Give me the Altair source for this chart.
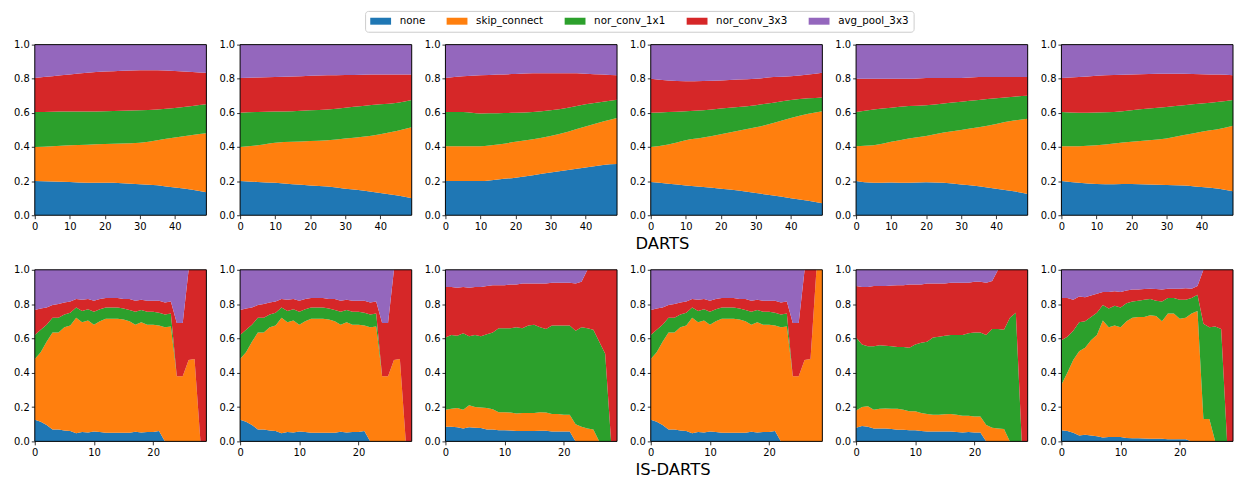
import altair as alt
import pandas as pd

OPS = ["none", "skip_connect", "nor_conv_1x1", "nor_conv_3x3", "avg_pool_3x3"]
COLORS = ["#1f77b4", "#ff7f0e", "#2ca02c", "#d62728", "#9467bd"]

# ---- DARTS (top row), 50 epochs, values read at these epochs ----
# each list = cumulative top edge of that operation's band
EPOCHS_DARTS = [0, 5, 10, 15, 20, 25, 30, 35, 40, 45, 49]

D1_NONE = [0.200, 0.198, 0.195, 0.190, 0.190, 0.188, 0.182, 0.176, 0.162, 0.150, 0.135]
D1_SKIP = [0.400, 0.405, 0.410, 0.413, 0.417, 0.420, 0.425, 0.440, 0.455, 0.470, 0.480]
D1_C1 = [0.605, 0.607, 0.608, 0.608, 0.610, 0.612, 0.615, 0.620, 0.628, 0.640, 0.650]
D1_C3 = [0.805, 0.815, 0.825, 0.835, 0.842, 0.847, 0.850, 0.850, 0.845, 0.840, 0.835]

D2_NONE = [0.200, 0.195, 0.190, 0.182, 0.175, 0.168, 0.155, 0.145, 0.130, 0.115, 0.100]
D2_SKIP = [0.400, 0.410, 0.425, 0.430, 0.435, 0.440, 0.450, 0.460, 0.475, 0.495, 0.515]
D2_C1 = [0.600, 0.605, 0.608, 0.610, 0.615, 0.620, 0.630, 0.640, 0.650, 0.660, 0.675]
D2_C3 = [0.805, 0.807, 0.810, 0.813, 0.818, 0.820, 0.822, 0.824, 0.825, 0.825, 0.825]

D3_NONE = [0.200, 0.200, 0.200, 0.210, 0.220, 0.235, 0.250, 0.265, 0.280, 0.295, 0.300]
D3_SKIP = [0.405, 0.405, 0.405, 0.415, 0.430, 0.445, 0.465, 0.490, 0.520, 0.550, 0.570]
D3_C1 = [0.605, 0.605, 0.597, 0.598, 0.600, 0.605, 0.615, 0.630, 0.650, 0.665, 0.677]
D3_C3 = [0.805, 0.815, 0.820, 0.825, 0.828, 0.832, 0.832, 0.832, 0.830, 0.825, 0.820]

D4_NONE = [0.195, 0.185, 0.175, 0.165, 0.155, 0.145, 0.130, 0.115, 0.100, 0.085, 0.070]
D4_SKIP = [0.400, 0.415, 0.440, 0.455, 0.475, 0.495, 0.515, 0.540, 0.570, 0.595, 0.610]
D4_C1 = [0.600, 0.605, 0.610, 0.615, 0.625, 0.635, 0.645, 0.660, 0.675, 0.685, 0.690]
D4_C3 = [0.800, 0.790, 0.785, 0.787, 0.790, 0.795, 0.800, 0.810, 0.815, 0.825, 0.835]

D5_NONE = [0.200, 0.190, 0.192, 0.190, 0.193, 0.190, 0.180, 0.170, 0.155, 0.140, 0.125]
D5_SKIP = [0.405, 0.410, 0.430, 0.450, 0.465, 0.485, 0.500, 0.515, 0.535, 0.555, 0.565]
D5_C1 = [0.605, 0.620, 0.630, 0.640, 0.645, 0.655, 0.665, 0.675, 0.685, 0.695, 0.700]
D5_C3 = [0.800, 0.800, 0.800, 0.800, 0.805, 0.805, 0.805, 0.810, 0.810, 0.810, 0.810]

D6_NONE = [0.200, 0.190, 0.183, 0.182, 0.183, 0.180, 0.177, 0.175, 0.165, 0.155, 0.140]
D6_SKIP = [0.405, 0.405, 0.410, 0.420, 0.430, 0.440, 0.450, 0.470, 0.490, 0.505, 0.525]
D6_C1 = [0.605, 0.600, 0.602, 0.605, 0.615, 0.625, 0.635, 0.645, 0.655, 0.665, 0.675]
D6_C3 = [0.805, 0.810, 0.818, 0.822, 0.825, 0.828, 0.830, 0.830, 0.827, 0.825, 0.820]

# ---- IS-DARTS (bottom row), 30 epochs ----
EPOCHS_IS = list(range(30))

I1_NONE = [0.126, 0.114, 0.095, 0.070, 0.070, 0.064, 0.060, 0.048, 0.054, 0.052, 0.058, 0.054, 0.050, 0.050, 0.050,
           0.050, 0.050, 0.056, 0.052, 0.054, 0.054, 0.060, 0, 0, 0, 0, 0, 0, 0, 0]
I1_SKIP = [0.48, 0.52, 0.58, 0.635, 0.635, 0.665, 0.675, 0.72, 0.695, 0.705, 0.68, 0.70, 0.715, 0.715, 0.715,
           0.71, 0.70, 0.68, 0.695, 0.68, 0.68, 0.675, 0.665, 0.67, 0.38, 0.38, 0.475, 0.48, 0, 0]
I1_C1 = [0.62, 0.65, 0.68, 0.72, 0.72, 0.74, 0.75, 0.78, 0.76, 0.77, 0.755, 0.77, 0.78, 0.78, 0.78,
         0.775, 0.765, 0.755, 0.765, 0.755, 0.755, 0.75, 0.74, 0.745, 0.38, 0.38, 0.475, 0.48, 0, 0]
I1_C3 = [0.765, 0.775, 0.78, 0.795, 0.80, 0.81, 0.815, 0.83, 0.825, 0.83, 0.82, 0.83, 0.835, 0.835, 0.835,
         0.83, 0.83, 0.82, 0.825, 0.82, 0.82, 0.82, 0.81, 0.815, 0.69, 0.69, 1, 1, 1, 1]

I2_NONE = [0.126, 0.114, 0.095, 0.070, 0.070, 0.064, 0.060, 0.048, 0.054, 0.052, 0.058, 0.054, 0.050, 0.050, 0.050,
           0.050, 0.050, 0.056, 0.052, 0.054, 0.054, 0.060, 0, 0, 0, 0, 0, 0, 0, 0]
I2_SKIP = [0.48, 0.52, 0.58, 0.635, 0.635, 0.665, 0.675, 0.72, 0.695, 0.705, 0.68, 0.70, 0.715, 0.715, 0.715,
           0.71, 0.70, 0.68, 0.695, 0.68, 0.68, 0.675, 0.665, 0.67, 0.38, 0.38, 0.475, 0.48, 0, 0]
I2_C1 = [0.62, 0.65, 0.68, 0.72, 0.72, 0.74, 0.75, 0.78, 0.76, 0.77, 0.755, 0.77, 0.78, 0.78, 0.78,
         0.775, 0.765, 0.755, 0.765, 0.755, 0.755, 0.75, 0.74, 0.745, 0.38, 0.38, 0.475, 0.48, 0, 0]
I2_C3 = [0.765, 0.775, 0.78, 0.795, 0.80, 0.81, 0.815, 0.83, 0.825, 0.83, 0.82, 0.83, 0.835, 0.835, 0.835,
         0.83, 0.83, 0.82, 0.825, 0.82, 0.82, 0.82, 0.81, 0.815, 0.69, 0.69, 1, 1, 1, 1]

I3_NONE = [0.085, 0.085, 0.082, 0.075, 0.082, 0.080, 0.078, 0.070, 0.070, 0.065, 0.065, 0.063, 0.060, 0.060, 0.060,
           0.060, 0.062, 0.062, 0.058, 0.058, 0.058, 0.058, 0, 0, 0, 0, 0, 0, 0, 0]
I3_SKIP = [0.185, 0.19, 0.195, 0.185, 0.21, 0.20, 0.198, 0.195, 0.188, 0.17, 0.17, 0.168, 0.162, 0.165, 0.165,
           0.165, 0.17, 0.168, 0.16, 0.16, 0.155, 0.155, 0.10, 0.085, 0.075, 0.07, 0, 0, 0, 0]
I3_C1 = [0.605, 0.62, 0.615, 0.63, 0.612, 0.62, 0.612, 0.625, 0.635, 0.66, 0.66, 0.66, 0.665, 0.66, 0.675,
         0.68, 0.665, 0.655, 0.675, 0.675, 0.675, 0.675, 0.645, 0.665, 0.66, 0.65, 0.58, 0.51, 0, 0]
I3_C3 = [0.90, 0.90, 0.895, 0.90, 0.895, 0.90, 0.90, 0.905, 0.91, 0.91, 0.91, 0.915, 0.915, 0.92, 0.92,
         0.92, 0.92, 0.92, 0.925, 0.925, 0.925, 0.925, 0.92, 0.93, 1, 1, 1, 1, 1, 1]

I4_NONE = [0.126, 0.114, 0.095, 0.070, 0.070, 0.064, 0.060, 0.048, 0.054, 0.052, 0.058, 0.054, 0.050, 0.050, 0.050,
           0.050, 0.050, 0.056, 0.052, 0.054, 0.054, 0.060, 0, 0, 0, 0, 0, 0, 0, 0]
I4_SKIP = [0.48, 0.52, 0.58, 0.635, 0.635, 0.665, 0.675, 0.72, 0.695, 0.705, 0.68, 0.70, 0.715, 0.715, 0.715,
           0.71, 0.70, 0.68, 0.695, 0.68, 0.68, 0.675, 0.665, 0.67, 0.38, 0.38, 0.475, 0.48, 1, 1]
I4_C1 = [0.62, 0.65, 0.68, 0.72, 0.72, 0.74, 0.75, 0.78, 0.76, 0.77, 0.755, 0.77, 0.78, 0.78, 0.78,
         0.775, 0.765, 0.755, 0.765, 0.755, 0.755, 0.75, 0.74, 0.745, 0.38, 0.38, 0.475, 0.48, 1, 1]
I4_C3 = [0.765, 0.775, 0.78, 0.795, 0.80, 0.81, 0.815, 0.83, 0.825, 0.83, 0.82, 0.83, 0.835, 0.835, 0.835,
         0.83, 0.83, 0.82, 0.825, 0.82, 0.82, 0.82, 0.81, 0.815, 0.69, 0.69, 1, 1, 1, 1]

I5_NONE = [0.08, 0.09, 0.085, 0.075, 0.075, 0.075, 0.072, 0.068, 0.068, 0.065, 0.065, 0.06, 0.058, 0.058, 0.058,
           0.058, 0.058, 0.055, 0.052, 0.055, 0.052, 0.052, 0, 0, 0, 0, 0, 0, 0, 0]
I5_SKIP = [0.18, 0.20, 0.205, 0.185, 0.19, 0.192, 0.19, 0.19, 0.185, 0.175, 0.175, 0.165, 0.16, 0.155, 0.155,
           0.158, 0.16, 0.155, 0.15, 0.15, 0.145, 0.145, 0.095, 0.08, 0.075, 0.072, 0, 0, 0, 0]
I5_C1 = [0.605, 0.565, 0.555, 0.555, 0.56, 0.557, 0.555, 0.55, 0.55, 0.545, 0.565, 0.575, 0.58, 0.605, 0.61,
         0.615, 0.62, 0.62, 0.62, 0.63, 0.635, 0.635, 0.62, 0.655, 0.655, 0.65, 0.72, 0.75, 0, 0]
I5_C3 = [0.905, 0.90, 0.90, 0.905, 0.905, 0.905, 0.908, 0.91, 0.91, 0.915, 0.915, 0.915, 0.92, 0.92, 0.92,
         0.92, 0.925, 0.925, 0.925, 0.925, 0.93, 0.93, 0.925, 0.935, 1, 1, 1, 1, 1, 1]

I6_NONE = [0.065, 0.06, 0.05, 0.035, 0.038, 0.035, 0.03, 0.022, 0.025, 0.025, 0.025, 0.02, 0.018, 0.018, 0.017,
           0.016, 0.016, 0.016, 0.012, 0.012, 0.012, 0.012, 0, 0, 0, 0, 0, 0, 0, 0]
I6_SKIP = [0.33, 0.40, 0.475, 0.525, 0.545, 0.59, 0.62, 0.705, 0.665, 0.675, 0.665, 0.70, 0.72, 0.725, 0.725,
           0.735, 0.73, 0.70, 0.745, 0.745, 0.715, 0.72, 0.745, 0.76, 0.13, 0.13, 0, 0, 0, 0]
I6_C1 = [0.59, 0.61, 0.645, 0.695, 0.70, 0.725, 0.75, 0.795, 0.775, 0.79, 0.78, 0.805, 0.815, 0.82, 0.825,
         0.83, 0.82, 0.815, 0.835, 0.835, 0.825, 0.825, 0.835, 0.855, 0.685, 0.665, 0.67, 0.655, 0, 0]
I6_C3 = [0.835, 0.835, 0.825, 0.845, 0.84, 0.85, 0.86, 0.87, 0.87, 0.875, 0.87, 0.88, 0.885, 0.885, 0.888,
         0.89, 0.888, 0.885, 0.89, 0.89, 0.89, 0.893, 0.89, 0.905, 1, 1, 1, 1, 1, 1]

DARTS_X_TICKS = [0, 10, 20, 30, 40]
IS_X_TICKS = [0, 10, 20]
Y_TICKS = [0.0, 0.2, 0.4, 0.6, 0.8, 1.0]

PANEL_W = 173
TOP_H = 172
BOT_H = 173


def band_table(epochs, levels):
    n = len(epochs)
    edges = [[0.0] * n] + levels + [[1.0] * n]
    rows = []
    for k, op in enumerate(OPS):
        for i, e in enumerate(epochs):
            rows.append({"epoch": e, "op": op, "lo": edges[k][i], "hi": edges[k + 1][i]})
    return pd.DataFrame(rows)


LEGEND = alt.Legend(
    title=None, orient="none", legendX=333, legendY=-34, direction="horizontal", columns=5,
    symbolType="M-1,-0.7L3.2,-0.7L3.2,0.7L-1,0.7Z", symbolSize=100, symbolStrokeWidth=0, symbolOpacity=1,
    labelFont="DejaVu Sans", labelFontSize=10.4, labelColor="black", labelOffset=19.5, columnPadding=21,
    padding=5, strokeColor="#cccccc", fillColor="white", cornerRadius=3,
)

AXIS_KW = dict(grid=False, domain=False, tickSize=3.5, tickWidth=0.8, tickColor="black",
               labelColor="black", labelFont="DejaVu Sans", labelFontSize=10, labelFlush=False,
               labelOverlap=False)


def x_axis(xticks, row_title):
    if row_title:
        return alt.Axis(values=xticks, format="d", labelPadding=3, title=row_title, titleX=-16, titleY=33.5,
                        titleAlign="left", titleBaseline="alphabetic", titleFont="DejaVu Sans",
                        titleFontSize=16.5, titleFontWeight="normal", titleColor="black", **AXIS_KW)
    return alt.Axis(values=xticks, format="d", labelPadding=3, title=None, **AXIS_KW)


def y_axis():
    return alt.Axis(values=Y_TICKS, format=".1f", labelPadding=2, title=None, **AXIS_KW)


def make_panel(df, xmax, xticks, interp, height, row_title=None):
    xscale = alt.Scale(domain=[0, xmax], nice=False, zero=False)
    yscale = alt.Scale(domain=[0, 1], nice=False)
    area = alt.Chart(df).mark_area(interpolate=interp, strokeWidth=0, opacity=1).encode(
        x=alt.X("epoch:Q", scale=xscale, axis=x_axis(xticks, row_title)),
        y=alt.Y("lo:Q", stack=None, scale=yscale, axis=y_axis()),
        y2="hi:Q",
        color=alt.Color("op:N", scale=alt.Scale(domain=OPS, range=COLORS), legend=LEGEND),
    )
    frame = alt.Chart(alt.Data(values=[{"k": 0}])).mark_rect(
        fillOpacity=0, stroke="black", strokeWidth=1
    ).encode(
        x=alt.XDatum(0, type="quantitative", scale=xscale, axis=x_axis(xticks, row_title)),
        x2=alt.X2Datum(xmax),
        y=alt.YDatum(0, type="quantitative", scale=yscale, axis=y_axis()),
        y2=alt.Y2Datum(1),
    )
    return alt.layer(area, frame).properties(width=PANEL_W, height=height)


top = [
    (D1_NONE, D1_SKIP, D1_C1, D1_C3),
    (D2_NONE, D2_SKIP, D2_C1, D2_C3),
    (D3_NONE, D3_SKIP, D3_C1, D3_C3),
    (D4_NONE, D4_SKIP, D4_C1, D4_C3),
    (D5_NONE, D5_SKIP, D5_C1, D5_C3),
    (D6_NONE, D6_SKIP, D6_C1, D6_C3),
]
bottom = [
    (I1_NONE, I1_SKIP, I1_C1, I1_C3),
    (I2_NONE, I2_SKIP, I2_C1, I2_C3),
    (I3_NONE, I3_SKIP, I3_C1, I3_C3),
    (I4_NONE, I4_SKIP, I4_C1, I4_C3),
    (I5_NONE, I5_SKIP, I5_C1, I5_C3),
    (I6_NONE, I6_SKIP, I6_C1, I6_C3),
]

panels = []
for j, lv in enumerate(top):
    panels.append(make_panel(band_table(EPOCHS_DARTS, list(lv)), 49, DARTS_X_TICKS, "monotone", TOP_H,
                             "DARTS" if j == 3 else None))
for j, lv in enumerate(bottom):
    panels.append(make_panel(band_table(EPOCHS_IS, list(lv)), 29, IS_X_TICKS, "linear", BOT_H,
                             "IS-DARTS" if j == 3 else None))

chart = alt.concat(*panels, columns=6, spacing={"row": 55, "column": 34}, bounds="flush").resolve_scale(
    x="independent", y="independent"
).properties(
    padding={"left": 5, "top": 0, "right": 0, "bottom": 0}
).configure_view(strokeWidth=0).configure_axis(labelOverlap=False)

chart.save("out.html", embed_options={"renderer": "svg", "actions": False})
